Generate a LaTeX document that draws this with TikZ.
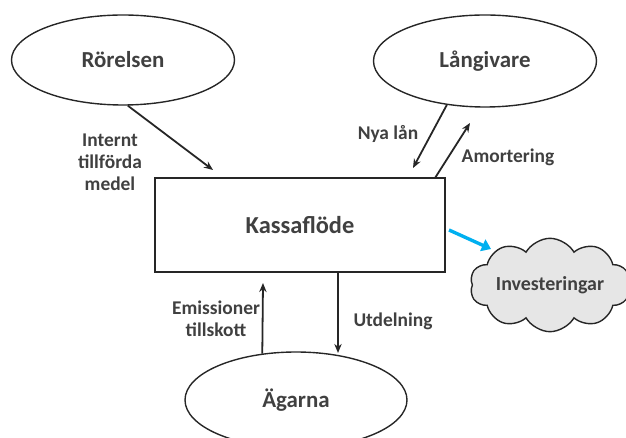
\documentclass[tikz,border=0pt]{standalone}
\usepackage{fontspec}
\setmainfont{Carlito}
\usetikzlibrary{arrows.meta,shapes.geometric,shapes.symbols}
\definecolor{kfblue}{RGB}{0,176,240}
\definecolor{kfcloud}{RGB}{230,230,230}
\definecolor{kftext}{RGB}{64,64,64}

\begin{document}
\begin{tikzpicture}[
    x=1bp, y=-1bp,
    >={Stealth[length=3.2mm,width=2.6mm]},
    party/.style={ellipse, draw=black!85, line width=1.4pt, inner sep=0pt, text=kftext,
                  font=\bfseries\fontsize{23}{27}\selectfont},
    flowbox/.style={rectangle, draw=black!85, line width=2pt, inner sep=0pt, text=kftext,
                    minimum width=290bp, minimum height=94bp,
                    font=\bfseries\fontsize{24.5}{28}\selectfont},
    invest/.style={cloud, cloud puffs=10, cloud puff arc=120, aspect=2.2, draw=black!85,
                   fill=kfcloud, line width=1.4pt, inner sep=0pt, text=kftext,
                   minimum width=160bp, minimum height=72bp,
                   font=\bfseries\fontsize{20}{23}\selectfont},
    flow/.style={->, draw=black!85, line width=1.8pt},
    tag/.style={text=kftext, align=center, font=\bfseries\fontsize{19.5}{22}\selectfont},
  ]

  \useasboundingbox (0,0) rectangle (626,438);

  % actors round the cash flow
  \node[party, minimum width=223bp, minimum height=90bp] (rorelsen)  at (123,60)  {Rörelsen};
  \node[party, minimum width=223bp, minimum height=92bp] (langivare) at (485,61)  {Långivare};
  \node[party, minimum width=222bp, minimum height=96bp] (agarna)    at (296,400) {Ägarna};
  \node[flowbox] (kassa) at (300,225) {Kassaflöde};
  \node[invest]  (invest) at (550,285) {Investeringar};

  % free arrow ends
  \coordinate (intEnd)  at (213,170);
  \coordinate (lanEnd)  at (413,168);
  \coordinate (amoBeg)  at (435,178);
  \coordinate (amoEnd)  at (470,123);
  \coordinate (emiEnd)  at (263,283);
  \coordinate (utdBeg)  at (338,272);
  \coordinate (utdEnd)  at (338,353);
  \coordinate (invBeg)  at (449,230);
  \coordinate (invEnd)  at (491,249);

  \draw[flow] (rorelsen.-84) -- (intEnd);
  \draw[flow] (langivare.229) -- (lanEnd);
  \draw[flow] (amoBeg) -- (amoEnd);
  \draw[flow] (agarna.126) -- (emiEnd);
  \draw[flow] (utdBeg) -- (utdEnd);
  \draw[-{Triangle[length=3.2mm,width=4.4mm]}, kfblue, line width=3.4pt] (invBeg) -- (invEnd);

  % labels
  \node[tag] (lblInt) at (110,162) {Internt\\tillförda\\medel};
  \node[tag] (lblLan) at (388,134) {Nya lån};
  \node[tag] (lblAmo) at (508,157) {Amortering};
  \node[tag] (lblEmi) at (216,319) {Emissioner\\tillskott};
  \node[tag] (lblUtd) at (393,321) {Utdelning};

\end{tikzpicture}
\end{document}
